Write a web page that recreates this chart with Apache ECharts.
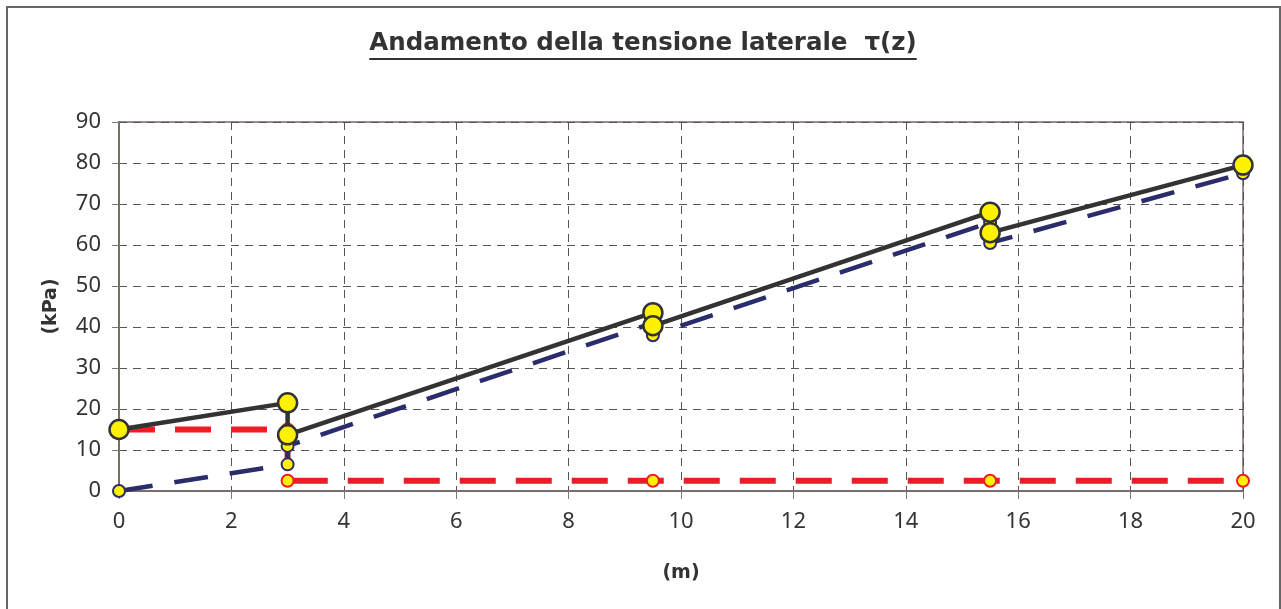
<!DOCTYPE html>
<html>
<head>
<meta charset="utf-8">
<script src="https://cdn.jsdelivr.net/npm/echarts@6/dist/echarts.min.js"></script>
<style>
html,body{margin:0;padding:0;background:#fff;}
#c{width:1281px;height:609px;}
</style>
</head>
<body>
<div id="c"></div>
<script>
// ---- data ----
const titleText = 'Andamento della tensione laterale  \u03c4(z)';
const xAxisName = '(m)';
const yAxisName = '(kPa)';

const totalX = [0, 3, 3, 9.5, 9.5, 15.5, 15.5, 20];
const totalY = [15, 21.5, 13.7, 43.5, 40.3, 68, 63, 79.5];

const navyX = [0, 3, 3, 9.5, 9.5, 15.5, 15.5, 20];
const navyY = [0, 6.5, 11, 41, 38, 65.5, 60.5, 77.5];

const redX = [0, 3, 3, 9.5, 15.5, 20];
const redY = [15, 15, 2.5, 2.5, 2.5, 2.5];

const pairs = (xs, ys) => xs.map((x, i) => [x, ys[i]]);

// ---- chart ----
const chart = echarts.init(document.getElementById('c'), null, {renderer: 'canvas'});

const titleFont = 'bold 24.5px "DejaVu Sans"';
const cv = document.createElement('canvas').getContext('2d');
cv.font = titleFont;
const tw = cv.measureText(titleText).width;
const tcx = 643;

const gridLine = {show: true, lineStyle: {color: '#555', width: 1, type: [8, 6]}};
const labelFont = {fontFamily: 'Noto Sans', fontSize: 22, color: '#333'};

chart.setOption({
  backgroundColor: '#fff',
  animation: false,
  graphic: [
    {type: 'rect', shape: {x: 7, y: 7, width: 1273, height: 620}, style: {fill: 'none', stroke: '#666', lineWidth: 2}, silent: true},
    {type: 'text', style: {text: titleText, x: tcx, y: 44, align: 'center', verticalAlign: 'middle', font: titleFont, fill: '#333'}},
    {type: 'line', shape: {x1: tcx - tw / 2, y1: 59, x2: tcx + tw / 2, y2: 59}, style: {stroke: '#333', lineWidth: 2}}
  ],
  grid: {left: 119, right: 38, top: 122, bottom: 118, show: true, borderColor: '#9a8c88', borderWidth: 2, containLabel: false},
  xAxis: {
    type: 'value', min: 0, max: 20, interval: 2,
    name: xAxisName, nameLocation: 'middle', nameGap: 73,
    nameTextStyle: {fontFamily: 'DejaVu Sans', fontWeight: 'bold', fontSize: 19, color: '#333'},
    axisLine: {show: true, lineStyle: {color: '#7a6e6a', width: 2}},
    axisTick: {show: true, inside: false, length: 8, lineStyle: {color: '#777', width: 1}},
    axisLabel: Object.assign({margin: 20}, labelFont),
    splitLine: gridLine
  },
  yAxis: {
    type: 'value', min: 0, max: 90, interval: 10,
    name: yAxisName, nameLocation: 'middle', nameGap: 58, nameRotate: 90,
    nameTextStyle: {fontFamily: 'DejaVu Sans', fontWeight: 'bold', fontSize: 19, color: '#333'},
    axisLine: {show: true, lineStyle: {color: '#7a6e6a', width: 2}},
    axisTick: {show: true, inside: false, length: 7, lineStyle: {color: '#777', width: 1}},
    axisLabel: Object.assign({margin: 18}, labelFont),
    splitLine: gridLine
  },
  series: [
    {
      type: 'line', data: pairs(redX, redY), z: 2,
      lineStyle: {color: '#ee1c24', width: 6, type: [36, 20]},
      symbol: 'circle', symbolSize: 12, showAllSymbol: true,
      itemStyle: {color: '#fff200', borderColor: '#ee1c24', borderWidth: 2}
    },
    {
      type: 'line', data: pairs(navyX, navyY), z: 3,
      lineStyle: {color: '#2b2c6b', width: 4.5, type: [34, 22]},
      symbol: 'circle', symbolSize: 12, showAllSymbol: true,
      itemStyle: {color: '#fff200', borderColor: '#2b2c6b', borderWidth: 2}
    },
    {
      type: 'line', data: pairs(totalX, totalY), z: 4,
      lineStyle: {color: '#333333', width: 4.5},
      symbol: 'circle', symbolSize: 19, showAllSymbol: true,
      itemStyle: {color: '#fff200', borderColor: '#333333', borderWidth: 2.5}
    }
  ]
});
</script>
</body>
</html>
